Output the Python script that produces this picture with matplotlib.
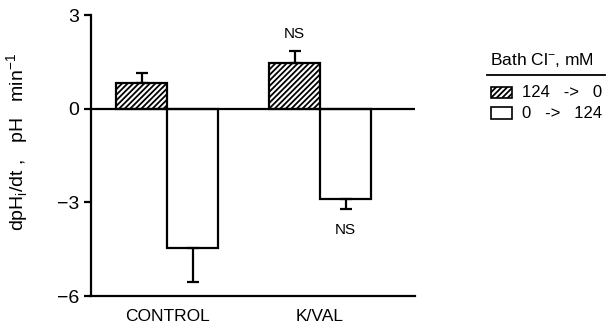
import matplotlib
matplotlib.use("Agg")
import matplotlib.pyplot as plt
from matplotlib.patches import Rectangle

groups = ["CONTROL", "K/VAL"]
cl_off = [0.84, 1.47]        # 124 -> 0
cl_off_err = [0.30, 0.39]
cl_on = [-4.46, -2.88]       # 0 -> 124
cl_on_err = [1.08, 0.32]
ns_off = ["", "NS"]
ns_on = ["", "NS"]

plt.rcParams['font.family'] = ['Liberation Sans', 'DejaVu Sans']
plt.rcParams['hatch.linewidth'] = 1.3

fig = plt.figure(figsize=(6.16, 3.29), dpi=100)
ax = fig.add_axes([0.1477, 0.1003, 0.526, 0.8532])

w = 0.333
x = [0, 1]
for i in x:
    ax.bar(i - w / 2, cl_off[i], w, color='white', edgecolor='black',
           hatch='//////', linewidth=1.6, zorder=2)
    ax.errorbar(i - w / 2, cl_off[i], yerr=[[0], [cl_off_err[i]]], fmt='none',
                ecolor='black', elinewidth=1.6, capsize=4, capthick=1.6, zorder=3)
    ax.bar(i + w / 2, cl_on[i], w, color='white', edgecolor='black',
           linewidth=1.6, zorder=2)
    ax.errorbar(i + w / 2, cl_on[i], yerr=[[cl_on_err[i]], [0]], fmt='none',
                ecolor='black', elinewidth=1.6, capsize=4, capthick=1.6, zorder=3)
    if ns_off[i]:
        ax.text(i - w / 2, cl_off[i] + cl_off_err[i] + 0.3, ns_off[i],
                ha='center', va='bottom', fontsize=11)
    if ns_on[i]:
        ax.text(i + w / 2, cl_on[i] - cl_on_err[i] - 0.45, ns_on[i],
                ha='center', va='top', fontsize=11)

ax.axhline(0, color='black', linewidth=1.6, zorder=4)
ax.set_xlim(-0.497, 1.62)
ax.set_ylim(-6, 3)
ax.set_yticks([3, 0, -3, -6])
ax.set_yticklabels(["3", "0", "\u22123", "\u22126"])
ax.set_xticks(x)
ax.set_xticklabels(groups)
ax.tick_params(axis='x', length=0, pad=9, labelsize=12.5)
ax.tick_params(axis='y', length=5, width=1.6, labelsize=14)
for s in ['top', 'right']:
    ax.spines[s].set_visible(False)
for s in ['left', 'bottom']:
    ax.spines[s].set_linewidth(1.6)
ax.set_ylabel("dpH$_\\mathregular{i}$/dt ,   pH   min$^\\mathregular{-1}$", fontsize=14)
ax.yaxis.set_label_coords(-0.185, 0.55)

# legend
fig.text(0.795, 0.818, "Bath Cl$^\\mathregular{-}$, mM", fontsize=12.5, ha='left', va='center')
fig.add_artist(plt.Line2D([0.79, 0.982], [0.772, 0.772], color='black', linewidth=1.3))
fig.add_artist(Rectangle((0.797, 0.703), 0.034, 0.033, facecolor='white', edgecolor='black',
                         hatch='//////', linewidth=1.2))
fig.text(0.848, 0.72, "124   ->   0", fontsize=12, ha='left', va='center')
fig.add_artist(Rectangle((0.797, 0.638), 0.034, 0.036, facecolor='white', edgecolor='black',
                         linewidth=1.2))
fig.text(0.848, 0.655, "0   ->   124", fontsize=12, ha='left', va='center')

plt.savefig('out.png', dpi=100)
